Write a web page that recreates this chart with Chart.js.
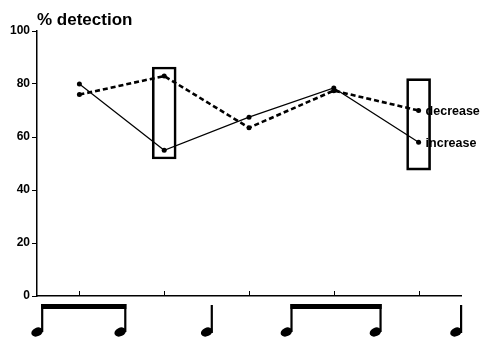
<!DOCTYPE html>
<html>
<head>
<meta charset="utf-8">
<script src="https://cdn.jsdelivr.net/npm/chart.js@4/dist/chart.umd.min.js"></script>
<style>
  html, body { margin: 0; padding: 0; background: #fff; }
  #wrap { width: 481px; height: 337px; position: relative; }
</style>
</head>
<body>
<div id="wrap"><canvas id="c" width="481" height="337"></canvas></div>
<script>
// Positions of the five probe events along the rhythm
const positions = [0, 1, 2, 3, 4];
// % detection for the two conditions
const increaseValues = [80, 55, 67.5, 78.5, 58];
const decreaseValues = [76, 83, 63.5, 77.5, 70];
const seriesNames = ['increase', 'decrease'];
// Framed ranges at selected events
const boxEvents = [1, 4];
const boxLow = [51.7, 47.5];
const boxHigh = [86.4, 82];
// Y axis tick values
const yTicks = [0, 20, 40, 60, 80, 100];
// Rhythm notation under the axis: beat position and note kind
const noteBeats = [-0.44, 0.54, 1.56, 2.5, 3.55, 4.5];
const noteKinds = ['eighth', 'eighth', 'quarter', 'eighth', 'eighth', 'quarter'];
const beamGroups = [[0, 1], [3, 4]];

const FONT = '"Liberation Sans", Arial, Helvetica, sans-serif';

const toXY = (vals) => positions.map((p, i) => ({ x: p, y: vals[i] }));

const decorations = {
  id: 'decorations',
  afterDatasetsDraw(chart) {
    const ctx = chart.ctx;
    const xs = chart.scales.x, ys = chart.scales.y;
    const area = chart.chartArea;
    ctx.save();

    // title
    ctx.fillStyle = '#000';
    ctx.font = 'bold 17px ' + FONT;
    ctx.textBaseline = 'alphabetic';
    ctx.textAlign = 'left';
    ctx.fillText('% detection', 37, 25);

    // inward ticks on the x axis
    ctx.strokeStyle = '#000';
    ctx.lineWidth = 1;
    positions.forEach(p => {
      const px = Math.round(xs.getPixelForValue(p)) + 0.5;
      ctx.beginPath();
      ctx.moveTo(px, area.bottom);
      ctx.lineTo(px, area.bottom - 5);
      ctx.stroke();
    });

    // series labels next to the last points
    ctx.font = 'bold 12.5px ' + FONT;
    ctx.textBaseline = 'middle';
    const last = positions.length - 1;
    [[increaseValues, seriesNames[0]], [decreaseValues, seriesNames[1]]].forEach(([vals, name]) => {
      const px = xs.getPixelForValue(positions[last]);
      const py = ys.getPixelForValue(vals[last]);
      ctx.fillText(name, px + 7, py + 1);
    });

    // rhythm notation
    const headY = 332, stemTop = 304;
    const stemX = noteBeats.map(b => xs.getPixelForValue(b));
    ctx.fillStyle = '#000';
    stemX.forEach((sx, i) => {
      // note head
      ctx.beginPath();
      ctx.ellipse(sx - 5, headY, 6, 4.3, -0.45, 0, Math.PI * 2);
      ctx.fill();
      // stem
      ctx.fillRect(sx - 1, noteKinds[i] === 'quarter' ? stemTop + 1 : stemTop, 2.2, headY - stemTop);
    });
    beamGroups.forEach(([a, b]) => {
      ctx.fillRect(stemX[a] - 1, stemTop, stemX[b] - stemX[a] + 2.2, 5);
    });

    ctx.restore();
  }
};

new Chart(document.getElementById('c'), {
  type: 'line',
  data: {
    datasets: [
      {
        label: seriesNames[0],
        data: toXY(increaseValues),
        borderColor: '#000',
        backgroundColor: '#000',
        borderWidth: 1.2,
        pointRadius: 2.5,
        pointBorderWidth: 0,
        tension: 0,
        order: 1
      },
      {
        label: seriesNames[1],
        data: toXY(decreaseValues),
        borderColor: '#000',
        backgroundColor: '#000',
        borderWidth: 2.6,
        borderDash: [5, 3],
        pointRadius: 2.5,
        pointBorderWidth: 0,
        tension: 0,
        order: 2
      },
      {
        type: 'bar',
        label: 'range',
        data: boxEvents.map((e, i) => ({ x: e, y: [boxLow[i], boxHigh[i]] })),
        backgroundColor: 'rgba(0,0,0,0)',
        borderColor: '#000',
        borderWidth: 2,
        borderSkipped: false,
        barThickness: 24,
        order: 3
      }
    ]
  },
  options: {
    responsive: false,
    animation: false,
    events: [],
    layout: { padding: { top: 31, right: 20, bottom: 41, left: 0 } },
    plugins: {
      legend: { display: false },
      title: { display: false },
      tooltip: { enabled: false }
    },
    scales: {
      x: {
        type: 'linear',
        min: -0.5,
        max: 4.5,
        offset: false,
        grid: { display: false, drawTicks: false },
        border: { display: true, color: '#000', width: 1.5 },
        ticks: { display: false },
        afterFit(s) { s.height = 0; }
      },
      y: {
        min: 0,
        max: 100,
        afterBuildTicks(s) { s.ticks = yTicks.map(v => ({ value: v })); },
        grid: { drawOnChartArea: false, drawTicks: true, tickLength: 5, color: '#000', lineWidth: 1 },
        border: { display: true, color: '#000', width: 1.5 },
        ticks: {
          color: '#000',
          padding: 2,
          font: { family: FONT, weight: 'bold', size: 12 }
        },
        afterFit(s) { s.width = 37; }
      }
    }
  },
  plugins: [decorations]
});
</script>
</body>
</html>
